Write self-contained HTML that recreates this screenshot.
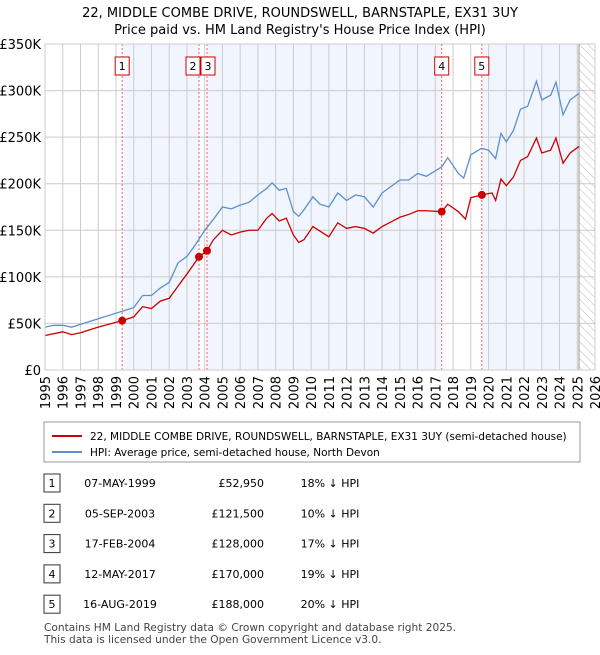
<!DOCTYPE html>
<html><head><meta charset="utf-8"><style>
body{margin:0;background:#fff;font-family:"Liberation Sans",sans-serif;}
svg text{font-family:"DejaVu Sans","Liberation Sans",sans-serif;}
</style></head><body>
<svg width="600" height="650" id="c">
<defs><pattern id="h" width="6" height="6" patternUnits="userSpaceOnUse" patternTransform="rotate(-45)"><line x1="0" y1="0" x2="0" y2="6" stroke="#bbb" stroke-width="1"/></pattern></defs>
<text x="300" y="17" text-anchor="middle" font-size="13">22, MIDDLE COMBE DRIVE, ROUNDSWELL, BARNSTAPLE, EX31 3UY</text>
<text x="300" y="34" text-anchor="middle" font-size="13">Price paid vs. HM Land Registry's House Price Index (HPI)</text>
<g id="plot"></g>
<g>
<rect x="44" y="422" width="536" height="40" fill="#fff" stroke="#999"/>
<line x1="52" y1="436" x2="82" y2="436" stroke="#cc0000" stroke-width="2"/>
<text x="90" y="440" font-size="10.5">22, MIDDLE COMBE DRIVE, ROUNDSWELL, BARNSTAPLE, EX31 3UY (semi-detached house)</text>
<line x1="52" y1="452" x2="82" y2="452" stroke="#5b8fd0" stroke-width="2"/>
<text x="90" y="456" font-size="10.5">HPI: Average price, semi-detached house, North Devon</text>
</g>
<g id="tbl" font-size="11"></g>
<text x="44" y="631" font-size="10.6" fill="#444">Contains HM Land Registry data © Crown copyright and database right 2025.</text>
<text x="44" y="643" font-size="10.6" fill="#444">This data is licensed under the Open Government Licence v3.0.</text>
</svg>
<script>
const hpiYears=[1995,1995.5,1996,1996.5,1997,1998,1999,1999.5,2000,2000.5,2001,2001.5,2002,2002.5,2003,2003.5,2004,2004.5,2005,2005.5,2006,2006.5,2007,2007.5,2007.8,2008.2,2008.6,2009,2009.3,2009.6,2010.1,2010.5,2011,2011.5,2012,2012.5,2013,2013.5,2014,2014.5,2015,2015.5,2016,2016.5,2017.36,2017.7,2018.3,2018.6,2019,2019.6,2020,2020.4,2020.7,2021,2021.4,2021.8,2022.2,2022.7,2023,2023.5,2023.8,2024.2,2024.6,2025.1];
const hpiValues=[46,48,48,46,49,55,61,64,67,80,80,88,94,115,122,135,150,162,175,173,177,180,188,195,201,193,195,170,165,172,186,178,175,190,182,188,186,175,190,197,204,204,211,208,218,228,211,206,231,238,236,227,254,245,257,280,283,310,290,295,309,274,290,297];
const ppYears=[1995,1996,1996.5,1997,1998,1999.35,2000,2000.5,2001,2001.5,2002,2002.5,2003,2003.68,2004.13,2004.5,2005,2005.5,2006,2006.5,2007,2007.5,2007.8,2008.2,2008.6,2009,2009.3,2009.6,2010.1,2011,2011.5,2012,2012.5,2013,2013.5,2014,2014.5,2015,2015.5,2016,2016.5,2017.36,2017.7,2018.3,2018.7,2019,2019.62,2020.2,2020.4,2020.7,2021,2021.4,2021.8,2022.2,2022.7,2023,2023.5,2023.8,2024.2,2024.6,2025.1];
const ppValues=[37,41,38,40,46,52.95,57,68,66,74,77,90,103,121.5,128,140,150,145,148,150,150,163,168,160,163,145,137,140,154,143,158,152,154,152,147,154,159,164,167,171,171,170,178,170,162,185,188,190,182,205,198,207,225,229,249,233,236,249,222,233,240];
const saleNums=["1","2","3","4","5"];
const saleYears=[1999.35,2003.68,2004.13,2017.36,2019.62];
const saleValues=[52.95,121.5,128,170,188];
const saleDates=["07-MAY-1999","05-SEP-2003","17-FEB-2004","12-MAY-2017","16-AUG-2019"];
const salePrices=["£52,950","£121,500","£128,000","£170,000","£188,000"];
const saleHpi=["18% ↓ HPI","10% ↓ HPI","17% ↓ HPI","19% ↓ HPI","20% ↓ HPI"];
const yTicks=[0,50,100,150,200,250,300,350];
const yTickLabels=["£0","£50K","£100K","£150K","£200K","£250K","£300K","£350K"];
const xTicks=[1995,1996,1997,1998,1999,2000,2001,2002,2003,2004,2005,2006,2007,2008,2009,2010,2011,2012,2013,2014,2015,2016,2017,2018,2019,2020,2021,2022,2023,2024,2025,2026];
const dataEnd=2025.1;
const NS="http://www.w3.org/2000/svg";
const X0=45,X1=595,Y0=370,Y1=44;
const xs=y=>X0+(y-1995)/(2026-1995)*(X1-X0);
const ys=v=>Y0-v/350*(Y0-Y1);
const g=document.getElementById('plot');
function mk(t,a,p){const e=document.createElementNS(NS,t);for(const k in a)e.setAttribute(k,a[k]);(p||g).appendChild(e);return e;}
let bg=mk('rect',{x:X0,y:Y1,width:X1-X0,height:Y0-Y1,fill:'#fff'});


const bands=[[saleYears[0],saleYears[1]],[saleYears[2],saleYears[3]],[saleYears[4],dataEnd]];
bands.forEach(b=>{const r=mk('rect',{x:xs(b[0]),y:Y1,width:xs(b[1])-xs(b[0]),height:Y0-Y1,fill:'#eef3fc',opacity:0.8});

});
const hr=mk('rect',{x:xs(dataEnd),y:Y1,width:X1-xs(dataEnd),height:Y0-Y1,fill:'url(#h)'});


yTicks.forEach((v,i)=>{const l=mk('line',{x1:X0,x2:X1,y1:ys(v),y2:ys(v),stroke:'#ccc'});


const t=mk('text',{x:X0-4,y:ys(v)+5,'text-anchor':'end','font-size':13});t.textContent=yTickLabels[i];

});
xTicks.forEach(yr=>{const l=mk('line',{x1:xs(yr),x2:xs(yr),y1:Y1,y2:Y0,stroke:'#ccc'});


const t=mk('text',{x:0,y:0,'font-size':13,'text-anchor':'end',transform:`translate(${xs(yr)+5},${Y0+6}) rotate(-90)`});t.textContent=yr;

});
const vl=mk('line',{x1:xs(dataEnd),x2:xs(dataEnd),y1:Y1,y2:Y0,stroke:'#999'});


saleYears.forEach((yr,i)=>{const l=mk('line',{x1:xs(yr),x2:xs(yr),y1:Y1,y2:Y0,stroke:'#f06060','stroke-dasharray':'2,2'});

});
const hp=mk('polyline',{points:hpiYears.map((y,i)=>xs(y)+','+ys(hpiValues[i])).join(' '),fill:'none',stroke:'#5b8fd0','stroke-width':1.3});


const pp=mk('polyline',{points:ppYears.map((y,i)=>xs(y)+','+ys(ppValues[i])).join(' '),fill:'none',stroke:'#cc0000','stroke-width':1.3});


saleYears.forEach((yr,i)=>{const c=mk('circle',{cx:xs(yr),cy:ys(saleValues[i]),r:4,fill:'#cc0000'});


const r=mk('rect',{x:i==1?xs(yr)-13:(i==2?xs(yr)-6:xs(yr)-7),y:57,width:14,height:18,fill:'#fff',stroke:'#cc0000'});


const t=mk('text',{x:(i==1?xs(yr)-6:(i==2?xs(yr)+1:xs(yr))),y:70,'text-anchor':'middle','font-size':11});t.textContent=saleNums[i];

});
mk('rect',{x:X0,y:Y1,width:X1-X0,height:Y0-Y1,fill:'none',stroke:'#ccc'});
const tb=document.getElementById('tbl');
saleNums.forEach((n,i)=>{const y=483+i*30.3;
const r=mk('rect',{x:44,y:y-9,width:16,height:18,fill:'#fff',stroke:'#333'},tb);


const cells=[[52,n,'middle'],[120,saleDates[i],'middle'],[264,salePrices[i],'end'],[330,saleHpi[i],'middle']];
cells.forEach(c=>{const t=mk('text',{x:c[0],y:y+4,'text-anchor':c[2]},tb);t.textContent=c[1];

});});
</script>
</body></html>
